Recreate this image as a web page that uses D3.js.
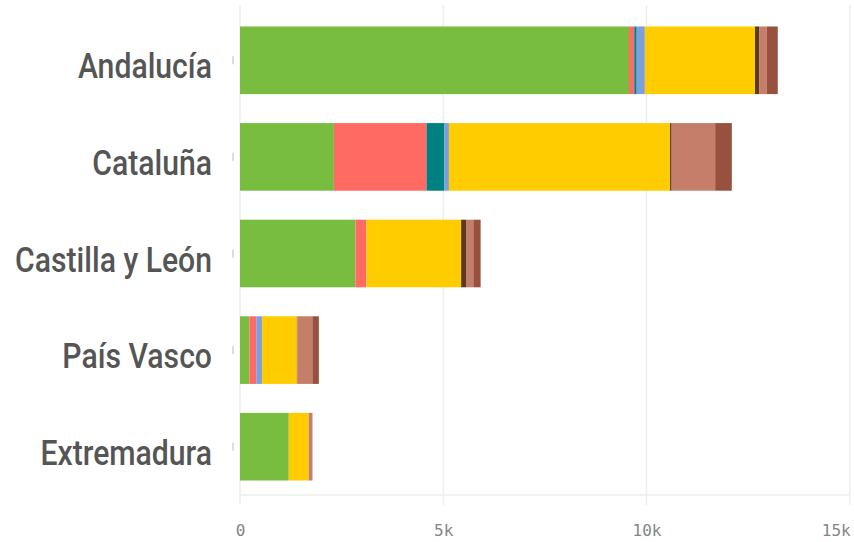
<!DOCTYPE html>
<html>
<head>
<meta charset="utf-8">
<script src="https://cdn.jsdelivr.net/npm/d3@7"></script>
<style>
  body { margin: 0; background: #fff; }
  .cat text { font-family: "Roboto", "Liberation Sans", sans-serif; font-weight: 500; fill: #555; }
  .x text { font-family: "DejaVu Sans Mono", monospace; fill: #858585; }
</style>
</head>
<body>
<div id="chart"></div>
<script>
// categorias (de arriba a abajo)
var regions = ["Andalucía", "Cataluña", "Castilla y León", "País Vasco", "Extremadura"];
// tramos de cada barra, en el orden en que se apilan
var keys = ["k1", "k2", "k3", "k4", "k5", "k6", "k7", "k8"];
var colors = ["#78bd40", "#ff6a63", "#008080", "#7b9fe0", "#ffcc00", "#5c3a22", "#c57e69", "#98513e"];
var k1 = [9570, 2310, 2840, 230, 1200];
var k2 = [130, 2280, 270, 170, 0];
var k3 = [60, 440, 0, 0, 0];
var k4 = [200, 110, 0, 140, 0];
var k5 = [2710, 5440, 2330, 860, 490];
var k6 = [110, 40, 120, 10, 0];
var k7 = [180, 1070, 180, 370, 80];
var k8 = [270, 410, 180, 160, 10];
var xTicks = [0, 5000, 10000, 15000];

var W = 854, H = 542;
var x0 = 240, x1 = 849.7, yTop = 12, yBot = 495;

var rows = regions.map(function (r, i) {
    return { region: r, k1: k1[i], k2: k2[i], k3: k3[i], k4: k4[i],
             k5: k5[i], k6: k6[i], k7: k7[i], k8: k8[i] };
});
var series = d3.stack().keys(keys)(rows);

var x = d3.scaleLinear().domain([0, 15000]).range([x0, x1]);
var y = d3.scaleBand().domain(regions).range([yTop, yBot])
    .paddingInner(0.3).paddingOuter(0.15);
var color = d3.scaleOrdinal().domain(keys).range(colors);

var svg = d3.select("#chart").append("svg")
    .attr("width", W).attr("height", H);

// rejilla
svg.append("g").selectAll("line").data(xTicks).enter().append("line")
    .attr("x1", function (d) { return x(d); })
    .attr("x2", function (d) { return x(d); })
    .attr("y1", 5).attr("y2", 505)
    .attr("stroke", "#eeeeee").attr("stroke-width", 1.5);
svg.append("line")
    .attr("x1", x0).attr("x2", x1).attr("y1", yBot).attr("y2", yBot)
    .attr("stroke", "#eeeeee").attr("stroke-width", 1.5);

// barras
svg.append("g").selectAll("g").data(series).enter().append("g")
    .attr("fill", function (d) { return color(d.key); })
    .selectAll("rect").data(function (d) { return d; }).enter().append("rect")
    .attr("x", function (d) { return x(d[0]); })
    .attr("width", function (d) { return x(d[1]) - x(d[0]); })
    .attr("y", function (d) { return y(d.data.region); })
    .attr("height", y.bandwidth());

// eje y
var yAxis = d3.axisLeft(y).tickSize(0).tickPadding(0);
var gy = svg.append("g").attr("class", "cat")
    .attr("transform", "translate(" + x0 + ",0)")
    .call(yAxis);
gy.select(".domain").remove();
gy.selectAll(".tick").append("line")
    .attr("x1", -7).attr("x2", -7).attr("y1", -4).attr("y2", 4)
    .attr("stroke", "#bbbbbb");
// letra estrecha: se comprime en horizontal
var labels = gy.selectAll("text").attr("font-size", 36).attr("x", 0).attr("dy", "0.5em");
var longest = d3.max(labels.nodes(), function (n) { return n.getComputedTextLength(); });
var sx = 197 / longest;
labels.attr("transform", "translate(-28,0) scale(" + sx + ",1)");

// eje x
var xAxis = d3.axisBottom(x).tickValues(xTicks).tickSize(0).tickPadding(30)
    .tickFormat(function (d) { return d === 0 ? "0" : d / 1000 + "k"; });
var gx = svg.append("g").attr("class", "x")
    .attr("transform", "translate(0," + yBot + ")")
    .call(xAxis);
gx.select(".domain").remove();
gx.selectAll("text").attr("font-size", 16);
gx.selectAll("text").filter(function (d) { return d === 15000; })
    .attr("text-anchor", "end").attr("x", 0.5);
</script>
</body>
</html>
